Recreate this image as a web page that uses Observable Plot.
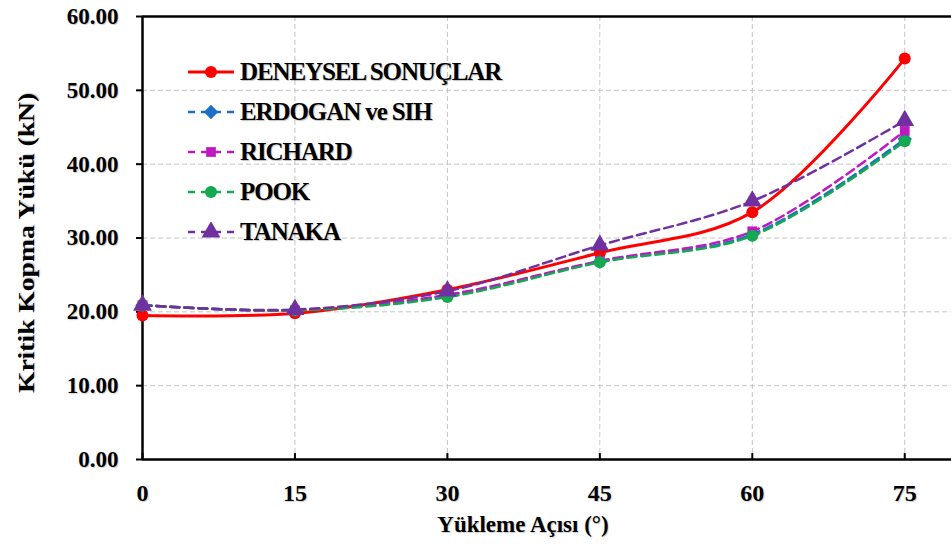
<!DOCTYPE html>
<html><head><meta charset="utf-8">
<script src="https://cdn.jsdelivr.net/npm/d3@7"></script>
<script src="https://cdn.jsdelivr.net/npm/@observablehq/plot@0.6"></script>
<style>
body{margin:0;background:#fff;}
#wrap{position:relative;width:951px;height:549px;overflow:hidden;}
#legend{position:absolute;left:186px;top:52px;font-family:"Liberation Serif",serif;font-weight:bold;font-size:25px;color:#000;}
.row{display:flex;align-items:center;height:40px;}
.row span{margin-left:4px;letter-spacing:-1.1px;white-space:nowrap;text-shadow:1px 1px 1px rgba(0,0,0,0.25);}
svg text{text-shadow:1px 1px 1px rgba(0,0,0,0.2);}
</style></head><body><div id="wrap"><div id="legend"></div></div>
<script>
const angles = [0, 15, 30, 45, 60, 75];
const deneysel = [19.5, 19.8, 23.0, 28.0, 33.5, 54.3];
const erdogan  = [20.9, 20.2, 22.2, 26.8, 30.5, 43.4];
const richard  = [20.9, 20.2, 22.3, 26.9, 30.9, 44.5];
const pook     = [20.9, 20.2, 22.0, 26.7, 30.3, 43.1];
const tanaka   = [20.9, 20.3, 22.8, 29.0, 35.0, 45.9];
const seriesNames = ["DENEYSEL SONUÇLAR", "ERDOGAN ve SIH", "RICHARD", "POOK", "TANAKA"];
const seriesValues = [deneysel, erdogan, richard, pook, tanaka];
const colors = ["#ff0000", "#1f6fc8", "#c018c0", "#14a850", "#7030a0"];
const symbols = ["circle", "diamond2", "square", "circle", "triangle"];
const yTicks = [0, 10, 20, 30, 40, 50, 60];
const yGrid = [10, 20, 30, 40, 50];
const xTicks = [0, 15, 30, 45, 60, 75];
const xGrid = [15, 30, 45, 60, 75];
const xTitle = "Yükleme Açısı (°)";
const yTitle = "Kritik Kopma Yükü (kN)";

const rows = [];
seriesNames.forEach((s, i) => angles.forEach((a, j) => rows.push({series: s, idx: i, x: a, y: seriesValues[i][j]})));

const lineMarks = seriesNames.map((s, i) => Plot.line(rows.filter(r => r.idx === i), {
  x: "x", y: "y", stroke: colors[i], strokeWidth: i === 0 ? 3 : 2.5,
  strokeDasharray: i === 0 ? null : "9,5", curve: "catmull-rom"
}));
const symR = k => k === "triangle" ? 7 : k === "square" ? 5.5 : k === "diamond2" ? 6.5 : 6;
const dotMarks = seriesNames.map((s, i) => Plot.dot(rows.filter(r => r.idx === i), {
  x: "x", y: "y", fill: colors[i], stroke: "none", symbol: () => symbols[i], r: symR(symbols[i])
}));

const chart = Plot.plot({
  width: 951, height: 549,
  marginLeft: 142, marginRight: 0, marginTop: 16, marginBottom: 90,
  x: {domain: [0, 79.6]},
  y: {domain: [0, 60]},
  style: {fontFamily: "Liberation Serif, serif", fontWeight: "bold", fontSize: "22px", color: "#000", background: "#fff"},
  marks: [
    Plot.ruleY(yGrid, {stroke: "#c4c4c4", strokeDasharray: "5,3", strokeWidth: 1}),
    Plot.ruleX(xGrid, {stroke: "#c4c4c4", strokeDasharray: "5,3", strokeWidth: 1}),
    Plot.axisY(yTicks, {tickFormat: d => d.toFixed(2), tickSize: 6, tickPadding: 18, label: null, strokeWidth: 2, fontSize: 23}),
    Plot.axisX(xTicks, {tickSize: 0, tickPadding: 24, label: null, fontSize: 24}),
    Plot.ruleX(xTicks, {y1: 0, y2: 0.8, stroke: "#000", strokeWidth: 2}),
    Plot.ruleY([0, 60], {stroke: "#000", strokeWidth: 2.5}),
    Plot.ruleX([0], {stroke: "#000", strokeWidth: 2.5}),
    ...lineMarks,
    ...dotMarks,
    Plot.text([yTitle], {text: d => d, frameAnchor: "left", textAnchor: "middle", dx: -116, dy: 5, rotate: -90, fontSize: 23, fontWeight: "bold"}),
    Plot.text([xTitle], {text: d => d, frameAnchor: "bottom", dx: -24, dy: 72, fontSize: 23, fontWeight: "bold"})
  ]
});
document.getElementById("wrap").prepend(chart);

// stretch glyphs like the reference (wide serif text)
const svgNS = "http://www.w3.org/2000/svg";
function stretch(nodes, sx, sy) {
  nodes.forEach(t => {
    const tr = t.getAttribute("transform") || "";
    const m = /translate\(\s*([-\d.e]+)[\s,]+([-\d.e]+)\s*\)/.exec(tr);
    let ax = m ? +m[1] : 0, ay = m ? +m[2] : 0;
    if (!/rotate/.test(tr)) { ax += +(t.getAttribute("x") || 0); ay += +(t.getAttribute("y") || 0); }
    const g = document.createElementNS(svgNS, "g");
    g.setAttribute("transform", `translate(${ax},${ay}) scale(${sx},${sy}) translate(${-ax},${-ay})`);
    t.parentNode.insertBefore(g, t);
    g.appendChild(t);
  });
}
stretch([...chart.querySelectorAll('g[aria-label="y-axis tick label"] text')], 1.25, 1);
const titles = [...chart.querySelectorAll('g[aria-label="text"] text')];
stretch(titles.filter(t => t.textContent === yTitle), 1, 1.2);

// legend
const leg = d3.select("#legend");
seriesNames.forEach((s, i) => {
  const row = leg.append("div").attr("class", "row");
  const svg = row.append("svg").attr("width", 50).attr("height", 20);
  svg.append("line").attr("x1", 2).attr("x2", 48).attr("y1", 10).attr("y2", 10)
    .attr("stroke", colors[i]).attr("stroke-width", i === 0 ? 3 : 2.5)
    .attr("stroke-dasharray", i === 0 ? null : "7,6");
  const t = {circle: d3.symbolCircle, diamond2: d3.symbolDiamond2, square: d3.symbolSquare, triangle: d3.symbolTriangle}[symbols[i]];
  const r = symR(symbols[i]);
  svg.append("path").attr("transform", "translate(25,10)")
    .attr("d", d3.symbol(t, r * r * Math.PI)()).attr("fill", colors[i]);
  row.append("span").text(s);
});
</script>
</body></html>
